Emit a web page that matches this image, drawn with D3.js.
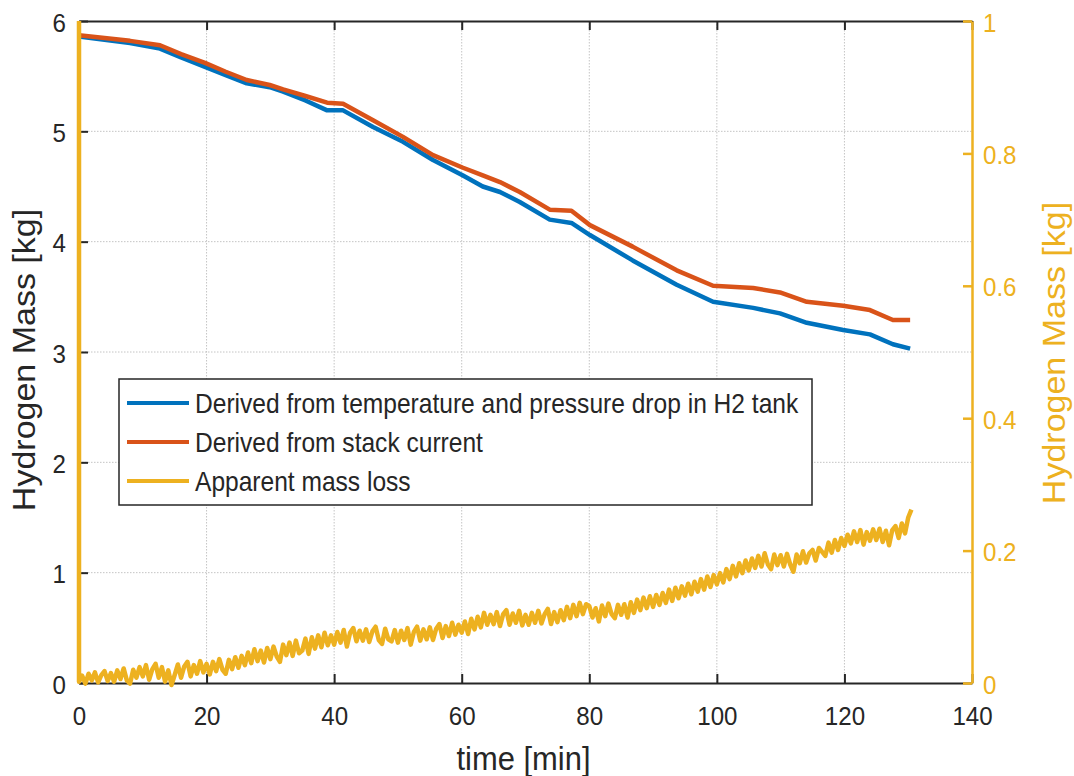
<!DOCTYPE html>
<html>
<head>
<meta charset="utf-8">
<script src="https://cdn.jsdelivr.net/npm/d3@7"></script>
<style>
  html, body { margin: 0; padding: 0; background: #fff; }
  svg { display: block; font-family: "Liberation Sans", Arial, Helvetica, sans-serif; }
</style>
</head>
<body>
<svg id="chart" width="1074" height="776"></svg>
<script>
'use strict';

// time axis for the two mass curves [min]
const massTime = [0, 4, 8, 12.7, 16, 19.75, 23, 26.3, 29.9, 32, 35.5, 38.9, 41.4, 46.1, 50.8,
  55.5, 60.2, 63.3, 66, 69.1, 73.8, 77.2, 80.1, 86.8, 93.7, 99.4, 105.7, 109.9, 114.1, 119.8,
  124, 127.6, 130.3];
// derived from temperature and pressure drop in H2 tank [kg]
const tankMass = [5.86, 5.83, 5.80, 5.75, 5.67, 5.585, 5.51, 5.435, 5.40, 5.36, 5.28, 5.19, 5.19,
  5.04, 4.905, 4.74, 4.60, 4.50, 4.45, 4.36, 4.20, 4.17, 4.06, 3.83, 3.61, 3.455, 3.40, 3.35,
  3.265, 3.20, 3.16, 3.07, 3.03];
// derived from stack current [kg]
const stackMass = [5.87, 5.845, 5.82, 5.78, 5.70, 5.62, 5.54, 5.465, 5.42, 5.38, 5.32, 5.26, 5.25,
  5.10, 4.95, 4.785, 4.67, 4.60, 4.54, 4.45, 4.29, 4.28, 4.15, 3.955, 3.74, 3.60, 3.58, 3.54,
  3.455, 3.42, 3.38, 3.29, 3.29];

// apparent mass loss (right axis), sampled every 0.5 min; first sample is the start spike
const lossStart = 1.0;
const lossStep = 0.5;
const lossValues = [
  0.002, 0.011, -0.001, 0.014, 0.004, 0.016, 0.001, 0.012, 0.018, 0.003,
  0.015, 0.002, 0.019, 0.006, 0.022, 0.004, -0.001, 0.020, 0.008, 0.024,
  0.010, 0.027, 0.005, 0.021, 0.029, 0.008, 0.024, 0.002, 0.019, -0.003,
  0.012, 0.028, 0.008, 0.025, 0.032, 0.010, 0.027, 0.014, 0.033, 0.016,
  0.029, 0.013, 0.032, 0.018, 0.036, 0.020, 0.014, 0.035, 0.021, 0.039,
  0.023, 0.041, 0.027, 0.046, 0.030, 0.051, 0.033, 0.049, 0.031, 0.053,
  0.036, 0.055, 0.040, 0.032, 0.058, 0.042, 0.061, 0.041, 0.064, 0.045,
  0.049, 0.067, 0.044, 0.069, 0.052, 0.072, 0.054, 0.076, 0.057, 0.072,
  0.058, 0.077, 0.061, 0.080, 0.055, 0.076, 0.083, 0.063, 0.079, 0.064,
  0.081, 0.062, 0.078, 0.085, 0.065, 0.059, 0.082, 0.066, 0.063, 0.080,
  0.061, 0.079, 0.065, 0.083, 0.058, 0.077, 0.085, 0.064, 0.081, 0.066,
  0.084, 0.065, 0.082, 0.089, 0.068, 0.086, 0.071, 0.091, 0.073, 0.088,
  0.076, 0.093, 0.074, 0.097, 0.081, 0.100, 0.084, 0.106, 0.088, 0.103,
  0.089, 0.107, 0.086, 0.104, 0.110, 0.088, 0.105, 0.091, 0.109, 0.087,
  0.103, 0.088, 0.106, 0.091, 0.109, 0.090, 0.104, 0.112, 0.089, 0.107,
  0.092, 0.110, 0.095, 0.115, 0.098, 0.118, 0.101, 0.121, 0.104, 0.119,
  0.116, 0.099, 0.113, 0.093, 0.117, 0.101, 0.120, 0.104, 0.098, 0.118,
  0.103, 0.119, 0.099, 0.122, 0.106, 0.126, 0.110, 0.129, 0.113, 0.131,
  0.115, 0.133, 0.118, 0.136, 0.121, 0.141, 0.124, 0.144, 0.128, 0.146,
  0.132, 0.150, 0.134, 0.153, 0.138, 0.157, 0.141, 0.161, 0.145, 0.163,
  0.149, 0.166, 0.152, 0.172, 0.157, 0.177, 0.161, 0.181, 0.166, 0.185,
  0.170, 0.188, 0.174, 0.192, 0.176, 0.196, 0.179, 0.172, 0.194, 0.178,
  0.193, 0.176, 0.195, 0.179, 0.168, 0.194, 0.181, 0.199, 0.182, 0.196,
  0.201, 0.185, 0.204, 0.198, 0.192, 0.212, 0.197, 0.216, 0.201, 0.219,
  0.207, 0.224, 0.211, 0.229, 0.213, 0.231, 0.209, 0.228, 0.215, 0.232,
  0.216, 0.233, 0.213, 0.230, 0.208, 0.231, 0.237, 0.219, 0.241, 0.226,
  0.250, 0.262
];

const xTicks = [0, 20, 40, 60, 80, 100, 120, 140];
const leftTicks = [0, 1, 2, 3, 4, 5, 6];
const rightTicks = [0, 0.2, 0.4, 0.6, 0.8, 1];
const legendLabels = [
  'Derived from temperature and pressure drop in H2 tank',
  'Derived from stack current',
  'Apparent mass loss'
];

const BLUE = '#0072BD', RED = '#D95319', YEL = '#EDB120', INK = '#262626';
const SQ = 0.91; // horizontal squash of the source figure's text

const svg = d3.select('#chart');
const L = 79, R = 972, T = 21, B = 683;

const x = d3.scaleLinear().domain([0, 140]).range([L, R]);
const yL = d3.scaleLinear().domain([0, 6]).range([B, T]);
const yR = d3.scaleLinear().domain([0, 1]).range([B, T]);

// grid
const grid = svg.append('g').attr('stroke', '#c4c4c4').attr('stroke-width', 1).attr('stroke-dasharray', '1.5,1.5');
xTicks.slice(1, -1).forEach(t => grid.append('line').attr('x1', x(t)).attr('x2', x(t)).attr('y1', T).attr('y2', B));
leftTicks.slice(1, -1).forEach(t => grid.append('line').attr('x1', L).attr('x2', R).attr('y1', yL(t)).attr('y2', yL(t)));

// axes
const tickFont = 26.5;
const gB = svg.append('g').attr('transform', `translate(0,${B})`)
  .call(d3.axisBottom(x).tickValues(xTicks).tickSize(-9).tickSizeOuter(0).tickFormat(d3.format('d')));
const gT = svg.append('g').attr('transform', `translate(0,${T})`)
  .call(d3.axisTop(x).tickValues(xTicks).tickSize(-9).tickSizeOuter(0).tickFormat(''));
const gL = svg.append('g').attr('transform', `translate(${L},0)`)
  .call(d3.axisLeft(yL).tickValues(leftTicks).tickSize(-9).tickSizeOuter(0).tickFormat(d3.format('d')));

[gB, gT, gL].forEach(g => {
  g.select('.domain').attr('stroke', INK).attr('stroke-width', 2);
  g.selectAll('.tick line').attr('stroke', INK).attr('stroke-width', 2);
  g.selectAll('text').attr('fill', INK).attr('font-size', tickFont).attr('font-family', null);
});
gB.selectAll('.tick text').attr('y', 42.5).attr('dy', null).attr('transform', `scale(${SQ},1)`);
gL.selectAll('.tick text').attr('x', -13 / SQ).attr('dy', null).attr('y', 10)
  .attr('transform', `scale(${SQ},1)`);

// series
const lineL = d3.line().x(d => x(d[0])).y(d => yL(d[1]));
const lineR = d3.line().x(d => x(d[0])).y(d => yR(d[1]));

const lossData = [[0, lossStart]].concat(lossValues.map((v, i) => [i * lossStep, v]));

svg.append('path').datum(massTime.map((t, i) => [t, tankMass[i]]))
  .attr('d', lineL).attr('fill', 'none').attr('stroke', BLUE).attr('stroke-width', 4.5)
  .attr('stroke-linejoin', 'round');
svg.append('path').datum(massTime.map((t, i) => [t, stackMass[i]]))
  .attr('d', lineL).attr('fill', 'none').attr('stroke', RED).attr('stroke-width', 4.5)
  .attr('stroke-linejoin', 'round');
svg.append('path').datum(lossData)
  .attr('d', lineR).attr('fill', 'none').attr('stroke', YEL).attr('stroke-width', 4.5)
  .attr('stroke-linejoin', 'round');

// right axis
const gR = svg.append('g').attr('transform', `translate(${R},0)`)
  .call(d3.axisRight(yR).tickValues(rightTicks).tickSize(-9).tickSizeOuter(0).tickFormat(d => d));
gR.select('.domain').attr('stroke', YEL).attr('stroke-width', 2.5);
gR.selectAll('.tick line').attr('stroke', YEL).attr('stroke-width', 2.5);
gR.selectAll('text').attr('fill', YEL).attr('font-size', tickFont).attr('font-family', null)
  .attr('x', 11 / SQ).attr('dy', null).attr('y', 10).attr('transform', `scale(${SQ},1)`);

// axis titles
svg.append('text').attr('transform', `translate(${(L + R) / 2 - 2},770) scale(${SQ},1)`)
  .attr('text-anchor', 'middle').attr('font-size', 34).attr('fill', INK).text('time [min]');
svg.append('text').attr('transform', `translate(35,360) rotate(-90) scale(1,${SQ})`)
  .attr('text-anchor', 'middle').attr('font-size', 34).attr('fill', INK).text('Hydrogen Mass [kg]');
svg.append('text').attr('transform', `translate(1065,353) rotate(-90) scale(1,${SQ})`)
  .attr('text-anchor', 'middle').attr('font-size', 34).attr('fill', YEL).text('Hydrogen Mass [kg]');

// legend
const leg = svg.append('g');
leg.append('rect').attr('x', 119).attr('y', 379).attr('width', 693).attr('height', 126)
  .attr('fill', '#fff').attr('stroke', INK).attr('stroke-width', 1.5);
const legColors = [BLUE, RED, YEL];
const legY = d3.scalePoint().domain(legendLabels).range([403, 481]);
legendLabels.forEach((lab, i) => {
  const yy = legY(lab);
  leg.append('line').attr('x1', 127).attr('x2', 189).attr('y1', yy).attr('y2', yy)
    .attr('stroke', legColors[i]).attr('stroke-width', 4);
  leg.append('text').attr('transform', `translate(195,${yy + 9.5}) scale(${SQ},1)`)
    .attr('font-size', 27).attr('fill', INK).text(lab);
});
</script>
</body>
</html>
